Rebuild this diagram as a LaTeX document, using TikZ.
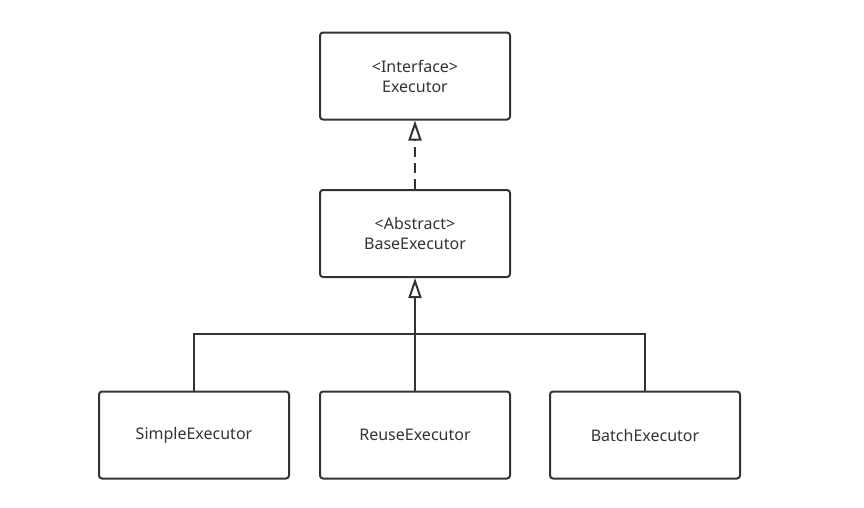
\documentclass[tikz,border=0pt]{standalone}
\usepackage{fontspec}
\setmainfont{Noto Sans}
\usetikzlibrary{arrows.meta}
\definecolor{ln}{HTML}{333333}
\begin{document}
\begin{tikzpicture}[x=1pt,y=-1pt,
  cls/.style={draw=ln,line width=2pt,rounded corners=3pt,minimum width=190pt,minimum height=87pt,inner sep=0pt,align=center,font=\fontsize{16}{20}\selectfont,text=ln},
  inh/.style={draw=ln,line width=2.2pt,-{Triangle[open,length=20pt,width=13pt,line width=2pt]}},
  bus/.style={draw=ln,line width=2pt}]
\useasboundingbox (0,0) rectangle (864,507);
\node[cls] (exec) at (415,76) {<Interface>\\Executor};
\node[cls] (base) at (415,233.5) {<Abstract>\\BaseExecutor};
\node[cls] (simple) at (194,435) {SimpleExecutor};
\node[cls] (reuse) at (415,435) {ReuseExecutor};
\node[cls] (batch) at (645,435) {BatchExecutor};
\coordinate (busL) at (194,334);
\coordinate (busR) at (645,334);
\draw[inh,dash pattern=on 10pt off 6pt] (base.north) -- (exec.south);
\draw[inh] (reuse.north) -- (base.south);
\draw[bus] (simple.north) -- (busL) -- (busR) -- (batch.north);
\end{tikzpicture}
\end{document}
